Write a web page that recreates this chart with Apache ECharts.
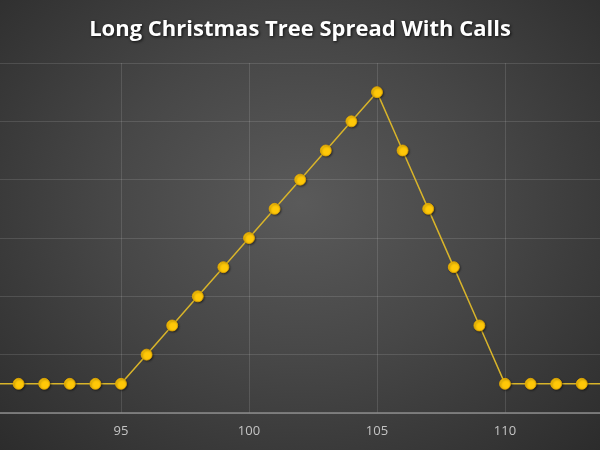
<!doctype html>
<html lang="en">
<head>
    <meta charset="UTF-8">
    <title>Long Christmas Tree Spread With Calls</title>
    <script src="https://cdn.jsdelivr.net/npm/echarts@6/dist/echarts.min.js"></script>
    <style>
        html, body {
            margin: 0;
            padding: 0;
        }

        #mainChart {
            width: 600px;
            height: 450px;
            background: radial-gradient(ellipse at 50% 45%, #5a5a5a 0%, #474747 45%, #2c2c2c 100%);
        }
    </style>
</head>
<body>
<div id="mainChart"></div>
<script>
    // stock price at expiry and the profit / loss of the spread
    let prices = [90, 91, 92, 93, 94, 95, 96, 97, 98, 99, 100, 101, 102,
        103, 104, 105, 106, 107, 108, 109, 110, 111, 112, 113, 114];
    let payoff = [-1, -1, -1, -1, -1, -1, 0, 1, 2, 3, 4, 5, 6,
        7, 8, 9, 7, 5, 3, 1, -1, -1, -1, -1, -1];
    let xTicks = [90, 95, 100, 105, 110, 115];

    function chartInit() {
        let myChart = echarts.init(document.getElementById('mainChart'));

        let points = [];
        for (let i = 0; i < prices.length; i++) {
            points.push([prices[i], payoff[i]]);
        }

        let option = {
            backgroundColor: 'transparent',
            title: {
                text: 'Long Christmas Tree Spread With Calls',
                left: 'center',
                top: 14,
                textStyle: {
                    color: '#ffffff',
                    fontFamily: 'Open Sans',
                    fontWeight: 'bold',
                    fontSize: 22,
                    textShadowColor: 'rgba(0, 0, 0, 0.8)',
                    textShadowBlur: 3,
                    textShadowOffsetX: 1,
                    textShadowOffsetY: 1
                }
            },
            // plot area runs a little past the canvas edges, as in the original
            grid: {
                left: -7,
                right: -33,
                top: 63,
                bottom: 37,
                containLabel: false,
                outerBoundsMode: 'none'
            },
            xAxis: {
                type: 'value',
                min: xTicks[0],
                max: xTicks[xTicks.length - 1],
                interval: 5,
                axisLine: {
                    onZero: false,
                    lineStyle: {color: '#8c8c8c', width: 1.5}
                },
                axisTick: {show: false},
                axisLabel: {
                    color: '#c4c4c4',
                    fontFamily: 'Open Sans',
                    fontSize: 13,
                    margin: 12
                },
                splitLine: {
                    show: true,
                    lineStyle: {color: 'rgba(255, 255, 255, 0.12)', width: 1}
                }
            },
            yAxis: {
                type: 'value',
                min: -2,
                max: 10,
                interval: 2,
                axisLine: {show: false},
                axisTick: {show: false},
                axisLabel: {show: false},
                splitLine: {
                    lineStyle: {color: 'rgba(255, 255, 255, 0.12)', width: 1}
                }
            },
            series: [{
                type: 'line',
                data: points,
                symbol: 'circle',
                symbolSize: 11,
                lineStyle: {
                    color: '#d8b42a',
                    width: 1.5
                },
                itemStyle: {
                    color: '#ffc808',
                    borderColor: '#e6a800',
                    borderWidth: 0.8,
                    shadowColor: 'rgba(0, 0, 0, 0.45)',
                    shadowBlur: 2,
                    shadowOffsetX: 1,
                    shadowOffsetY: 1
                },
                animation: false
            }]
        };

        option && myChart.setOption(option);
    }

    chartInit();
</script>
</body>
</html>
